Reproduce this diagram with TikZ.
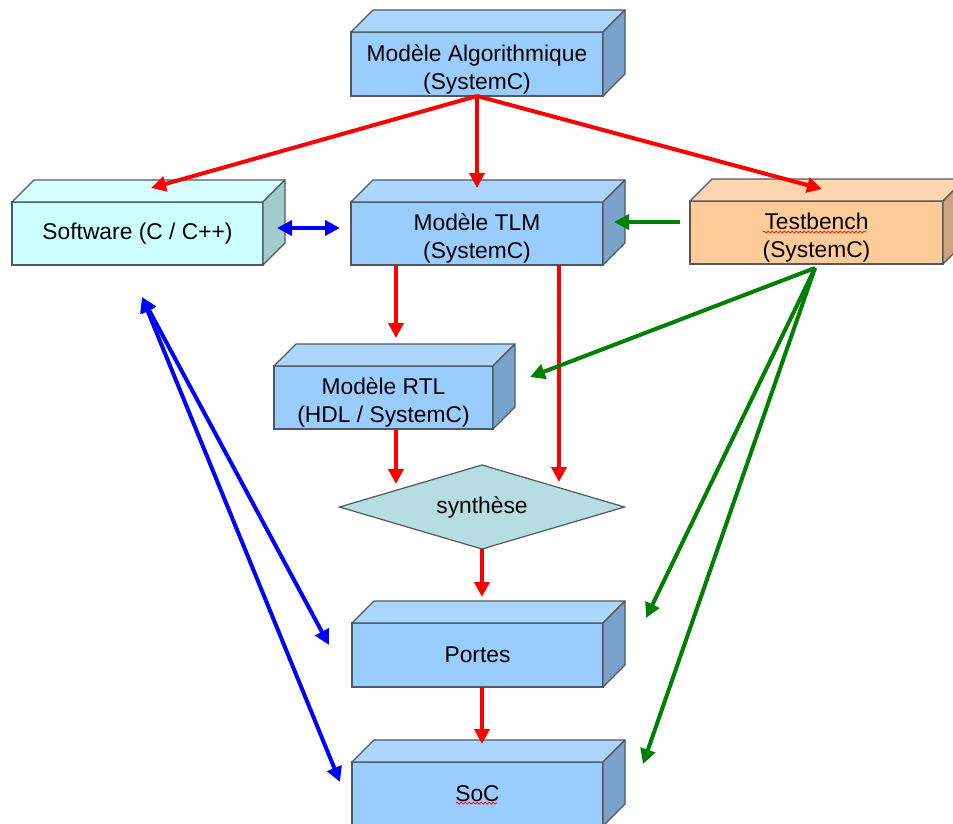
\documentclass[tikz,border=0pt]{standalone}
\usepackage{fontspec}
\setmainfont{Liberation Sans}
\usetikzlibrary{arrows.meta,shapes.geometric,decorations.pathmorphing}
\definecolor{bfront}{HTML}{99CCFF}
\definecolor{btop}{HTML}{ADD6FF}
\definecolor{bside}{HTML}{7AA3CC}
\definecolor{sfront}{HTML}{CCFFFF}
\definecolor{stop}{HTML}{D6FFFF}
\definecolor{sside}{HTML}{A3CCCC}
\definecolor{tfront}{HTML}{FFCC99}
\definecolor{ttop}{HTML}{FFD6AD}
\definecolor{tside}{HTML}{CCA37A}
\definecolor{dfill}{HTML}{B6DDE2}
\definecolor{edge}{HTML}{505860}
\definecolor{arrgreen}{HTML}{008000}
\newcommand{\upstrut}{\rule{0pt}{27pt}}
\newcommand{\boxfaces}[3]{%
  \filldraw[face, fill=#2] (#1.north west) -- ([shift={(22,-22)}]#1.north west) -- ([shift={(22,-22)}]#1.north east) -- (#1.north east) -- cycle;
  \filldraw[face, fill=#3] (#1.north east) -- ([shift={(22,-22)}]#1.north east) -- ([shift={(22,-22)}]#1.south east) -- (#1.south east) -- cycle;
}
\begin{document}
\begin{tikzpicture}[x=1pt,y=-1pt,
  face/.style={draw=edge, line width=1.2pt, line join=round},
  box/.style={draw=edge, line width=1.2pt, outer sep=0pt, inner sep=0pt, align=center,
    font=\fontsize{22.8}{28}\selectfont, text=black},
  redarr/.style={draw=red, line width=4pt, -{Triangle[length=15pt,width=15pt]}},
  grnarr/.style={draw=arrgreen, line width=4pt, -{Triangle[length=15pt,width=15pt]}},
  bluearr/.style={draw=blue, line width=4pt, {Triangle[length=15pt,width=15pt]}-{Triangle[length=15pt,width=15pt]}},
  spell/.style={draw=red, line width=0.7pt, decorate, decoration={snake, amplitude=1pt, segment length=4pt}}]
\useasboundingbox (0,0) rectangle (953,823);
\fill[white] (0,0) rectangle (953,823);

% boxes
\node[box, fill=bfront, minimum width=252, minimum height=64] (algo) at (477,64) {\upstrut Modèle Algorithmique\\(SystemC)};
\boxfaces{algo}{btop}{bside}
\node[box, fill=sfront, minimum width=251, minimum height=63] (soft) at (137.5,233.5) {Software (C / C++)};
\boxfaces{soft}{stop}{sside}
\node[box, fill=bfront, minimum width=252, minimum height=63] (tlm) at (477,233.5) {\upstrut Modèle TLM\\(SystemC)};
\boxfaces{tlm}{btop}{bside}
\node[box, fill=tfront, minimum width=253, minimum height=63] (tb) at (816.5,232.5) {\upstrut Testbench\\(SystemC)};
\boxfaces{tb}{ttop}{tside}
\node[box, fill=bfront, minimum width=219, minimum height=63] (rtl) at (383.5,397.5) {\upstrut Modèle RTL\\(HDL / SystemC)};
\boxfaces{rtl}{btop}{bside}
\node[box, diamond, aspect=3.4, fill=dfill, minimum width=285, minimum height=84] (syn) at (482,507) {synthèse};
\node[box, fill=bfront, minimum width=251, minimum height=64] (portes) at (477.5,655) {Portes};
\boxfaces{portes}{btop}{bside}
\node[box, fill=bfront, minimum width=251, minimum height=64] (soc) at (477.5,794) {SoC};
\boxfaces{soc}{btop}{bside}

% spell-check underlines
\coordinate (tbw1) at (763,232); \coordinate (tbw2) at (867,232);
\draw[spell] (tbw1) -- (tbw2);
\coordinate (socw1) at (456,803); \coordinate (socw2) at (497,803);
\draw[spell] (socw1) -- (socw2);

% coordinates
\coordinate (softin) at (151,188);
\coordinate (tlmin) at (477,188);
\coordinate (tbin) at (822,189);
\coordinate (tlmA) at (396,265);
\coordinate (rtlin) at (396,338);
\coordinate (tlmB) at (559,265);
\coordinate (synB) at (559,482);
\coordinate (rtlout) at (396,429);
\coordinate (synA) at (396,484);
\coordinate (portin) at (482,597);
\coordinate (portout) at (482,687);
\coordinate (socin) at (482,744);
\coordinate (softR) at (277,228);
\coordinate (tlmL) at (340,228);
\coordinate (softB) at (142,297);
\coordinate (portL) at (329,645);
\coordinate (socL) at (340,782);
\coordinate (tbL) at (680,222);
\coordinate (tlmR) at (614,222);
\coordinate (tbB) at (815,268);
\coordinate (rtlR) at (530,377);
\coordinate (portR) at (646,618);
\coordinate (socR) at (643,764);

% red arrows
\draw[redarr] (algo.south) -- (softin);
\draw[redarr] (algo.south) -- (tlmin);
\draw[redarr] (algo.south) -- (tbin);
\draw[redarr] (tlmA) -- (rtlin);
\draw[redarr] (tlmB) -- (synB);
\draw[redarr] (rtlout) -- (synA);
\draw[redarr] (syn.south) -- (portin);
\draw[redarr] (portout) -- (socin);

% blue arrows
\draw[bluearr] (softR) -- (tlmL);
\draw[bluearr] (softB) -- (portL);
\draw[bluearr] (softB) -- (socL);

% green arrows
\draw[grnarr] (tbL) -- (tlmR);
\draw[grnarr] (tbB) -- (rtlR);
\draw[grnarr] (tbB) -- (portR);
\draw[grnarr] (tbB) -- (socR);
\end{tikzpicture}
\end{document}
